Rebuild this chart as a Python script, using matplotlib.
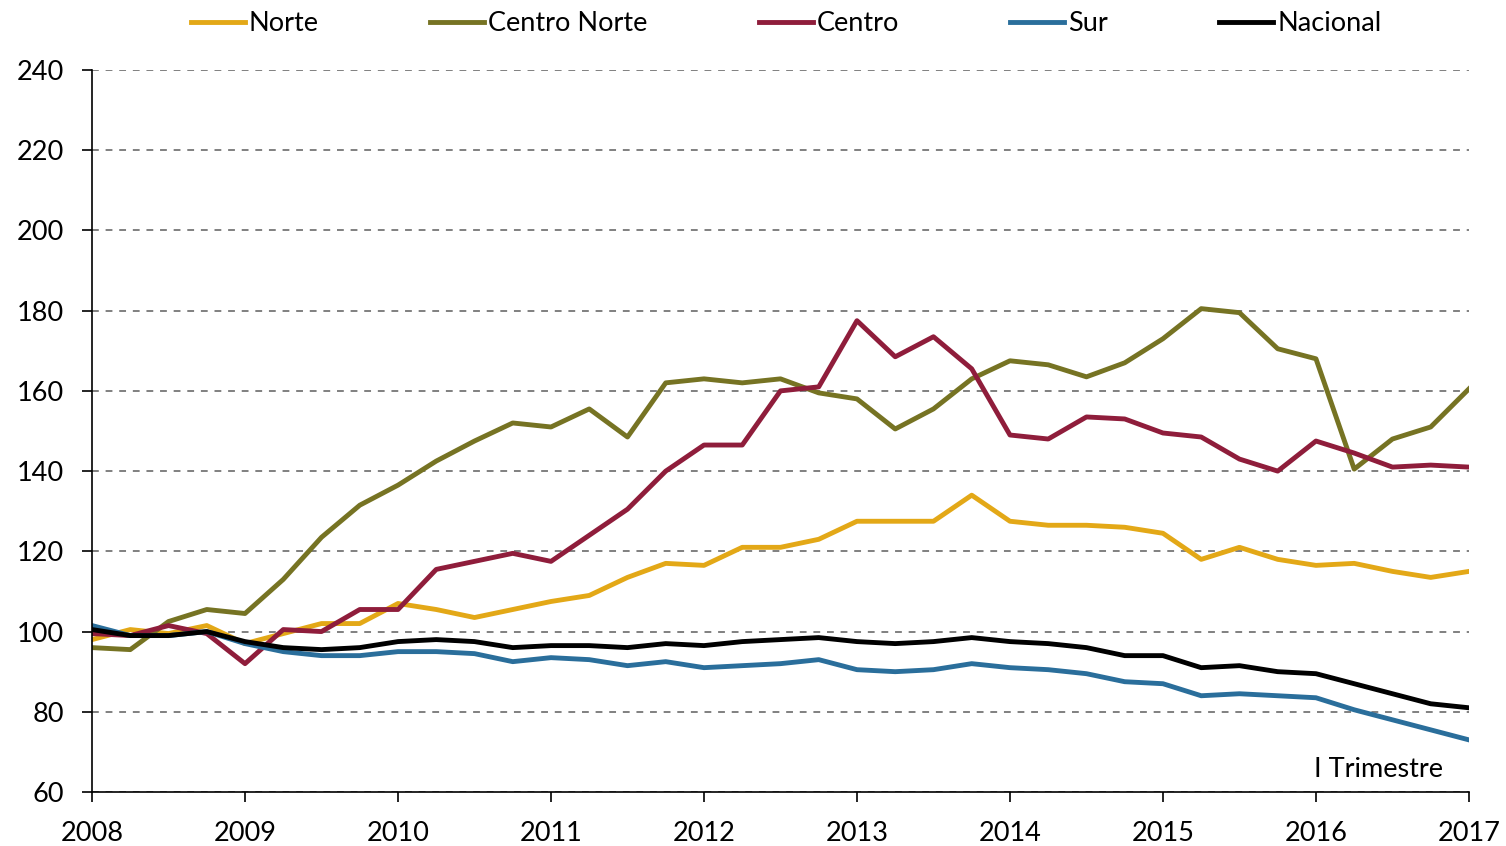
import matplotlib.pyplot as plt
import numpy as np

plt.rcParams['font.family'] = ['Lato', 'DejaVu Sans']

# trimestres desde 2008 I hasta 2017 I
trimestres = np.arange(2008, 2017.01, 0.25)

norte = [98, 100.5, 99.5, 101.5, 97, 99.5, 102, 102, 107, 105.5, 103.5, 105.5,
         107.5, 109, 113.5, 117, 116.5, 121, 121, 123, 127.5, 127.5, 127.5, 134,
         127.5, 126.5, 126.5, 126, 124.5, 118, 121, 118, 116.5, 117, 115, 113.5, 115]
centro_norte = [96, 95.5, 102.5, 105.5, 104.5, 113, 123.5, 131.5, 136.5, 142.5, 147.5, 152,
                151, 155.5, 148.5, 162, 163, 162, 163, 159.5, 158, 150.5, 155.5, 163,
                167.5, 166.5, 163.5, 167, 173, 180.5, 179.5, 170.5, 168, 140.5, 148, 151, 160.5]
centro = [99.5, 99, 101.5, 99.5, 92, 100.5, 100, 105.5, 105.5, 115.5, 117.5, 119.5,
          117.5, 124, 130.5, 140, 146.5, 146.5, 160, 161, 177.5, 168.5, 173.5, 165.5,
          149, 148, 153.5, 153, 149.5, 148.5, 143, 140, 147.5, 144.5, 141, 141.5, 141]
sur = [101.5, 99, 99, 100, 97, 95, 94, 94, 95, 95, 94.5, 92.5,
       93.5, 93, 91.5, 92.5, 91, 91.5, 92, 93, 90.5, 90, 90.5, 92,
       91, 90.5, 89.5, 87.5, 87, 84, 84.5, 84, 83.5, 80.5, 78, 75.5, 73]
nacional = [100.5, 99, 99, 100, 97.5, 96, 95.5, 96, 97.5, 98, 97.5, 96,
            96.5, 96.5, 96, 97, 96.5, 97.5, 98, 98.5, 97.5, 97, 97.5, 98.5,
            97.5, 97, 96, 94, 94, 91, 91.5, 90, 89.5, 87, 84.5, 82, 81]

series = [('Norte', norte, '#E3A817'),
          ('Centro Norte', centro_norte, '#767323'),
          ('Centro', centro, '#8F1D3B'),
          ('Sur', sur, '#2A6E9B'),
          ('Nacional', nacional, '#000000')]

fig = plt.figure(figsize=(15.06, 8.46), dpi=100)
ax = fig.add_axes([0.0611, 0.0638, 0.9143, 0.8535])

for name, values, color in series:
    ax.plot(trimestres, values, color=color, lw=3.5, label=name)

ax.set_xlim(2008, 2017)
ax.set_ylim(60, 240)
ax.set_xticks(range(2008, 2018))
ax.set_yticks(range(60, 241, 20))
ax.grid(axis='y', color='#808080', ls=(0, (3.5, 3.5)), lw=1.4)
ax.set_axisbelow(True)

for s in ['top', 'right']:
    ax.spines[s].set_visible(False)
for s in ['left', 'bottom']:
    ax.spines[s].set_linewidth(1.2)

ax.tick_params(axis='both', labelsize=19.5, width=1.2, length=7, direction='out')
ax.tick_params(axis='x', pad=14)
ax.tick_params(axis='y', pad=13)

ax.text(2016.83, 62.5, 'I Trimestre', ha='right', va='bottom', fontsize=19.5)

fig.legend(*ax.get_legend_handles_labels(), loc='center', bbox_to_anchor=(0.522, 0.972),
           ncol=5, frameon=False, fontsize=19.5, handlelength=2.0, handletextpad=0.15,
           columnspacing=4.1, borderaxespad=0)

plt.savefig('out.png', dpi=100)
